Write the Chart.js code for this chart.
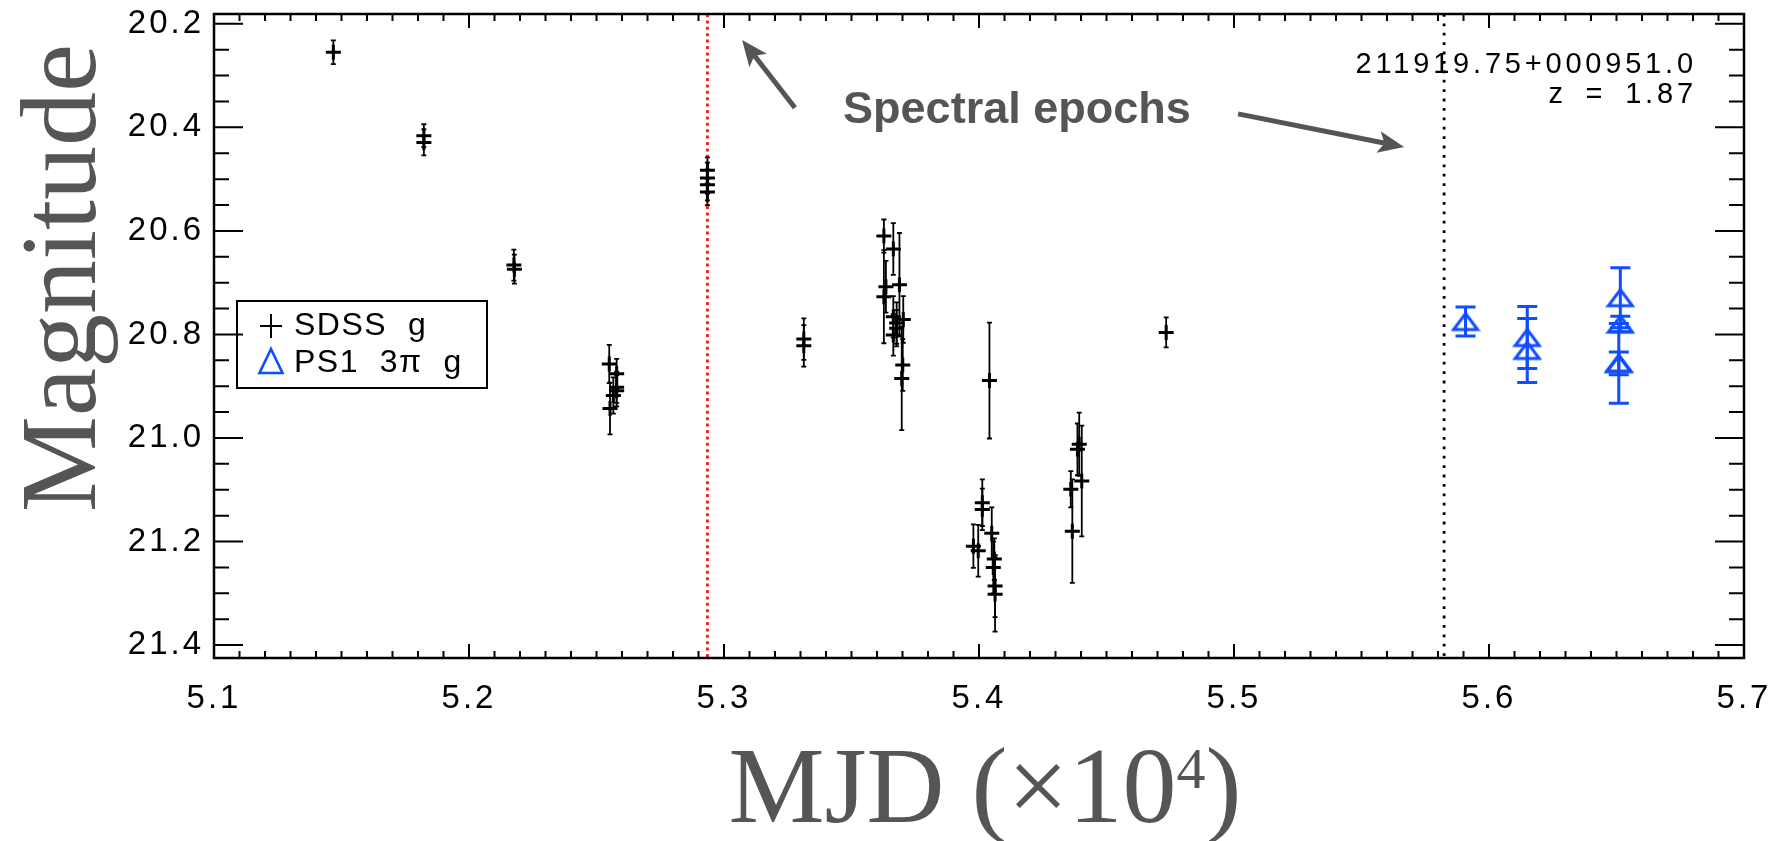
<!DOCTYPE html>
<html>
<head>
<meta charset="utf-8">
<script src="https://cdn.jsdelivr.net/npm/chart.js@4.4.0/dist/chart.umd.min.js"></script>
<style>
  html, body { margin: 0; padding: 0; background: #fff; }
</style>
</head>
<body>
<canvas id="lc" width="1776" height="841"></canvas>
<script>
// SDSS g light curve (MJD in units of 1e4 days)
const sdssMjd = [5.1468, 5.1823, 5.1823, 5.2176, 5.2178, 5.2935, 5.2935, 5.2935, 5.2935,
  5.2550, 5.2579, 5.2579, 5.2579, 5.2566, 5.2553, 5.3313, 5.3313,
  5.3627, 5.3664, 5.3688, 5.3635, 5.3627, 5.3664, 5.3703, 5.3677, 5.3677, 5.3664, 5.3701, 5.3697,
  5.4041, 5.4013, 5.4013, 5.4050, 5.3978, 5.3997, 5.4060, 5.4056, 5.4063, 5.4063,
  5.4393, 5.4386, 5.4403, 5.4360, 5.4366, 5.4734];
const sdssMag = [20.255, 20.416, 20.429, 20.666, 20.674, 20.483, 20.498, 20.511, 20.525,
  20.857, 20.876, 20.902, 20.909, 20.918, 20.943, 20.809, 20.822,
  20.610, 20.635, 20.704, 20.708, 20.727, 20.766, 20.771, 20.778, 20.788, 20.801, 20.859, 20.885,
  20.889, 21.125, 21.138, 21.184, 21.209, 21.218, 21.234, 21.250, 21.286, 21.302,
  21.012, 21.022, 21.083, 21.099, 21.180, 20.796];
const sdssErr = [0.023, 0.022, 0.025, 0.030, 0.028, 0.025, 0.030, 0.030, 0.025,
  0.037, 0.029, 0.030, 0.030, 0.035, 0.050, 0.040, 0.040,
  0.032, 0.050, 0.100, 0.050, 0.090, 0.040, 0.045, 0.040, 0.035, 0.040, 0.050, 0.100,
  0.112, 0.045, 0.040, 0.050, 0.042, 0.050, 0.040, 0.050, 0.060, 0.072,
  0.061, 0.050, 0.107, 0.035, 0.100, 0.029];

// PS1 3pi g
const ps1Mjd = [5.5908, 5.6150, 5.6150, 5.6515, 5.6515, 5.6509, 5.6509];
const ps1Mag = [20.775, 20.806, 20.831, 20.729, 20.780, 20.856, 20.856];
const ps1Err = [0.028, 0.060, 0.062, 0.058, 0.015, 0.077, 0.022];

// epochs of the spectra
const specEpochs = [5.2935, 5.5824];

const xTicks = [5.1, 5.2, 5.3, 5.4, 5.5, 5.6, 5.7];
const yTicks = [20.2, 20.4, 20.6, 20.8, 21.0, 21.2, 21.4];

const BLUE = '#0f4dff';
const GREY = '#555555';

// open triangle marker, a bit flatter than Chart.js' own
const tri = document.createElement('canvas');
tri.width = 30; tri.height = 22;
(() => {
  const c = tri.getContext('2d');
  c.strokeStyle = BLUE; c.lineWidth = 3;
  c.beginPath(); c.moveTo(15, 3); c.lineTo(27, 19); c.lineTo(3, 19); c.closePath(); c.stroke();
})();

const errorBars = {
  id: 'errorBars',
  beforeDatasetsDraw(chart) {
    const { ctx, chartArea: a, scales: { x, y } } = chart;
    ctx.save();
    ctx.beginPath(); ctx.rect(a.left, a.top, a.right - a.left, a.bottom - a.top); ctx.clip();
    // spectral epochs
    specEpochs.forEach((m, i) => {
      const px = x.getPixelForValue(m);
      ctx.strokeStyle = i === 0 ? '#e8251c' : '#000';
      ctx.lineWidth = 2.8;
      ctx.setLineDash(i === 0 ? [3, 3.4] : [2.8, 6.6]);
      ctx.beginPath(); ctx.moveTo(px, a.top); ctx.lineTo(px, a.bottom); ctx.stroke();
    });
    ctx.setLineDash([]);
    chart.data.datasets.forEach(ds => {
      ctx.strokeStyle = ds.errColor;
      ctx.lineWidth = ds.errWidth;
      ds.data.forEach((p, i) => {
        const px = x.getPixelForValue(p.x);
        const y1 = y.getPixelForValue(p.y - ds.errors[i]);
        const y2 = y.getPixelForValue(p.y + ds.errors[i]);
        ctx.beginPath();
        ctx.moveTo(px, y1); ctx.lineTo(px, y2);
        ctx.moveTo(px - ds.cap, y1); ctx.lineTo(px + ds.cap, y1);
        ctx.moveTo(px - ds.cap, y2); ctx.lineTo(px + ds.cap, y2);
        ctx.stroke();
      });
    });
    ctx.restore();
  }
};

function arrow(ctx, x0, y0, x1, y1) {
  const ang = Math.atan2(y1 - y0, x1 - x0);
  const L = 26, W = 11;
  const bx = x1 - L * Math.cos(ang), by = y1 - L * Math.sin(ang);
  ctx.beginPath(); ctx.moveTo(x0, y0); ctx.lineTo(bx + 8 * Math.cos(ang), by + 8 * Math.sin(ang)); ctx.stroke();
  ctx.beginPath();
  ctx.moveTo(x1, y1);
  ctx.lineTo(bx - W * Math.sin(ang), by + W * Math.cos(ang));
  ctx.lineTo(bx + 6 * Math.cos(ang), by + 6 * Math.sin(ang));
  ctx.lineTo(bx + W * Math.sin(ang), by - W * Math.cos(ang));
  ctx.closePath(); ctx.fill();
}

const decor = {
  id: 'decor',
  beforeDraw(chart) { chart.ctx.letterSpacing = '3px'; },
  afterDraw(chart) {
    const { ctx, chartArea: a, scales: { x, y } } = chart;
    ctx.save();
    ctx.letterSpacing = '0px';
    // frame
    ctx.strokeStyle = '#000'; ctx.lineWidth = 2.5;
    ctx.strokeRect(a.left, a.top, a.right - a.left, a.bottom - a.top);
    // inward ticks
    ctx.lineWidth = 2;
    ctx.beginPath();
    for (let k = 0; k <= 60; k++) {
      const v = 5.1 + k * 0.01, px = x.getPixelForValue(v);
      const len = k % 10 === 0 ? 14 : 7;
      ctx.moveTo(px, a.bottom); ctx.lineTo(px, a.bottom - len);
      ctx.moveTo(px, a.top); ctx.lineTo(px, a.top + len);
    }
    for (let k = 0; k <= 24; k++) {
      const v = 20.2 + k * 0.05, py = y.getPixelForValue(v);
      const len = k % 4 === 0 ? 29 : 15;
      ctx.moveTo(a.left, py); ctx.lineTo(a.left + len, py);
      ctx.moveTo(a.right, py); ctx.lineTo(a.right - len, py);
    }
    ctx.stroke();

    // axis titles
    ctx.fillStyle = GREY;
    ctx.font = '108px "Liberation Serif"';
    ctx.save();
    ctx.translate(95, 278); ctx.rotate(-Math.PI / 2);
    ctx.textAlign = 'center'; ctx.textBaseline = 'alphabetic';
    ctx.fillText('Magnitude', 0, 0);
    ctx.restore();
    const s1 = 'MJD (\u00d710', s3 = ')';
    ctx.font = '108px "Liberation Serif"';
    const w1 = ctx.measureText(s1).width, w3 = ctx.measureText(s3).width;
    ctx.font = '58px "Liberation Serif"';
    const w2 = ctx.measureText('4').width;
    let tx = (a.left + a.right) / 2 + 6 - (w1 + w2 + w3) / 2;
    const base = 822;
    ctx.textAlign = 'left'; ctx.textBaseline = 'alphabetic';
    ctx.font = '108px "Liberation Serif"';
    ctx.fillText(s1, tx, base); tx += w1;
    ctx.font = '58px "Liberation Serif"';
    ctx.fillText('4', tx, base - 34); tx += w2;
    ctx.font = '108px "Liberation Serif"';
    ctx.fillText(s3, tx, base);

    // spectral epochs annotation
    ctx.strokeStyle = GREY; ctx.fillStyle = GREY; ctx.lineWidth = 5;
    arrow(ctx, x.getPixelForValue(5.3278), y.getPixelForValue(20.362), x.getPixelForValue(5.3071), y.getPixelForValue(20.231));
    arrow(ctx, x.getPixelForValue(5.5016), y.getPixelForValue(20.374), x.getPixelForValue(5.5667), y.getPixelForValue(20.438));
    ctx.font = 'bold 45px "Liberation Sans"';
    ctx.fillText('Spectral epochs', x.getPixelForValue(5.3467), y.getPixelForValue(20.391));

    // object name and redshift
    ctx.fillStyle = '#000';
    ctx.font = '29px "Liberation Sans"';
    ctx.letterSpacing = '3.8px';
    ctx.textAlign = 'right';
    ctx.fillText('211919.75+000951.0', x.getPixelForValue(5.6815), y.getPixelForValue(20.295));
    ctx.wordSpacing = '7px';
    ctx.fillText('z = 1.87', x.getPixelForValue(5.6815), y.getPixelForValue(20.353));
    ctx.wordSpacing = '0px';

    // legend box
    ctx.letterSpacing = '1.5px';
    ctx.textAlign = 'left';
    ctx.lineWidth = 2;
    ctx.strokeStyle = '#000';
    const lx = a.left + 23, ly = a.top + 287;
    ctx.strokeRect(lx, ly, 250, 87);
    ctx.beginPath();
    ctx.moveTo(lx + 23, ly + 25); ctx.lineTo(lx + 45, ly + 25);
    ctx.moveTo(lx + 34, ly + 13); ctx.lineTo(lx + 34, ly + 37);
    ctx.stroke();
    ctx.strokeStyle = BLUE; ctx.lineWidth = 2.6;
    ctx.beginPath();
    ctx.moveTo(lx + 34, ly + 48); ctx.lineTo(lx + 45.5, ly + 72); ctx.lineTo(lx + 22.5, ly + 72); ctx.closePath();
    ctx.stroke();
    ctx.font = '32px "Liberation Sans"';
    ctx.fillText('SDSS  g', lx + 57, ly + 34);
    ctx.fillText('PS1  3\u03c0  g', lx + 57, ly + 71);
    ctx.restore();
  }
};

new Chart(document.getElementById('lc'), {
  type: 'scatter',
  data: {
    datasets: [
      {
        label: 'SDSS g',
        data: sdssMjd.map((m, i) => ({ x: m, y: sdssMag[i] })),
        errors: sdssErr,
        errColor: '#000', errWidth: 1.8, cap: 2.5,
        pointStyle: 'cross', pointRadius: 7.5, pointHoverRadius: 7.5,
        borderColor: '#000', borderWidth: 3, backgroundColor: '#000'
      },
      {
        label: 'PS1 3\u03c0 g',
        data: ps1Mjd.map((m, i) => ({ x: m, y: ps1Mag[i] })),
        errors: ps1Err,
        errColor: BLUE, errWidth: 3, cap: 10,
        pointStyle: tri, pointRadius: 12,
        borderColor: BLUE, backgroundColor: BLUE
      }
    ]
  },
  options: {
    responsive: false,
    animation: false,
    events: [],
    layout: { padding: { top: 14, right: 32, left: 0, bottom: 0 } },
    plugins: { legend: { display: false }, tooltip: { enabled: false } },
    scales: {
      x: {
        type: 'linear', min: 5.1, max: 5.7,
        grid: { display: false, drawTicks: false },
        border: { display: false },
        afterBuildTicks: s => { s.ticks = xTicks.map(v => ({ value: v })); },
        afterFit: s => { s.height = 183; s.paddingLeft = 0; s.paddingRight = 0; },
        ticks: {
          padding: 21, color: '#000', maxRotation: 0, autoSkip: false,
          font: { family: 'Liberation Sans', size: 33 },
          callback: v => v.toFixed(1)
        }
      },
      y: {
        type: 'linear', min: 20.181, max: 21.425, reverse: true,
        grid: { display: false, drawTicks: false },
        border: { display: false },
        afterBuildTicks: s => { s.ticks = yTicks.map(v => ({ value: v })); },
        afterFit: s => { s.width = 214; s.paddingTop = 0; s.paddingBottom = 0; },
        ticks: {
          padding: 10, color: '#000', autoSkip: false,
          font: { family: 'Liberation Sans', size: 33 },
          callback: v => v.toFixed(1)
        }
      }
    }
  },
  plugins: [errorBars, decor]
});
</script>
</body>
</html>
